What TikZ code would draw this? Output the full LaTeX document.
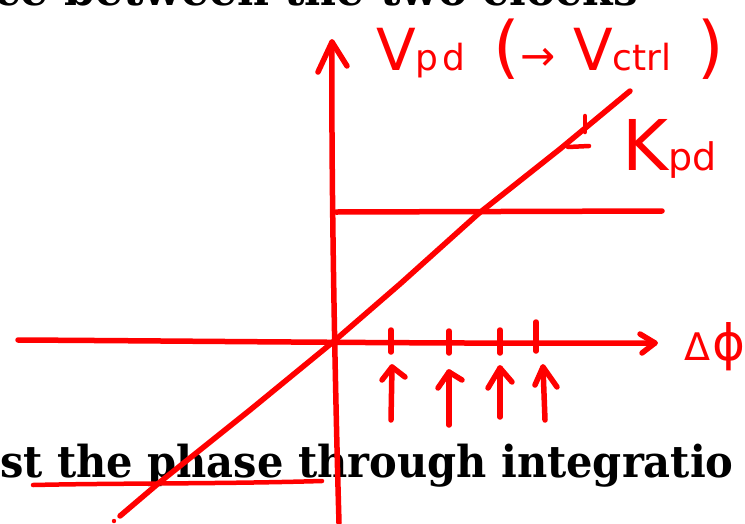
\documentclass[tikz,border=0pt]{standalone}
\usepackage{fontspec}
\setmainfont{DejaVu Serif}
\newfontfamily\narrowserif[FakeStretch=0.945]{DejaVu Serif}
\newfontfamily\handfont{DejaVu Sans}
\definecolor{ink}{RGB}{255,0,0}
\tikzset{
  pen/.style={draw=ink, line width=5.5pt, line cap=round, line join=round},
  thinpen/.style={draw=ink, line width=4.5pt, line cap=round, line join=round},
  slide/.style={anchor=base west, inner sep=0pt, text=black,
    font=\fontsize{44}{44}\selectfont\bfseries},
  hand/.style={anchor=base west, inner sep=0pt, text=ink, font=\handfont},
}
\newcommand{\hsz}[1]{\fontsize{#1}{#1}\selectfont}
\begin{document}
\begin{tikzpicture}[x=1pt,y=-1pt]
\useasboundingbox (0,0) rectangle (745,523);
\clip (0,0) rectangle (745,523);
% slide text
\node[slide] (toptext) at (-6,5) {ce between the two clocks};
\node[slide, font=\narrowserif\fontsize{44}{44}\selectfont\bfseries] (bottext) at (0,477) {st the phase through integratio};
% coordinates
\coordinate (ytip) at (332,42);
\coordinate (origin) at (333,342);
\coordinate (ybot) at (339,523);
\coordinate (xleft) at (18,340);
\coordinate (xtip) at (655,343);
\coordinate (dlow) at (120,516);
\coordinate (dhigh) at (630,91);
\coordinate (hl) at (336,212);
\coordinate (hr) at (662,211);
% vertical axis
\draw[pen] (ybot) .. controls (336,420) and (331,200) .. (ytip);
\draw[pen] (318,72) -- (ytip) -- (347,66);
% horizontal axis
\draw[pen] (xleft) .. controls (200,341) and (450,344) .. (xtip);
\draw[pen] (640,334) -- (xtip) -- (642,353);
% diagonal
\draw[pen] (dlow) -- (160,482) -- (250,410) -- (origin) -- (400,284) -- (478,214) -- (560,149) -- (dhigh);
\fill[ink] (114,521) circle (2.2pt);
% horizontal level line
\draw[pen] (hl) -- (hr);
% underline
\draw[thinpen] (33,485) .. controls (120,483) and (220,484) .. (322,481);
% ticks
\foreach \x/\a/\b in {391/330/352, 449/331/353, 500/330/353, 536/322/351}
  \draw[pen] (\x,\a) -- (\x,\b);
% up arrows
\draw[pen] (391,420) -- (392,367); \draw[pen] (382,380) -- (392,367) -- (405,377);
\draw[pen] (449,425) -- (449,372); \draw[pen] (438,388) -- (449,372) -- (462,380);
\draw[pen] (500,417) -- (500,368); \draw[pen] (488,388) -- (500,368) -- (512,382);
\draw[pen] (545,420) -- (543,367); \draw[pen] (535,385) -- (543,367) -- (557,387);
% slope marks
\draw[thinpen] (585,116) -- (585,132);
\draw[thinpen] (568,147) -- (589,146);
% labels
\node[hand] (vpd) at (376,70) {\hsz{58}V\hsz{36}p\hspace{4pt}d\hspace{28pt}\hsz{68}(\hsz{42}→\hspace{18pt}\hsz{58}V\hsz{36}ctrl\hspace{26pt}\hsz{68})};
\node[hand] (kpd) at (622,170) {\hsz{70}K\hsz{38}pd};
\node[hand] (dphi) at (684,360) {\hsz{38}Δ\hspace{2pt}\hsz{50}ϕ};
\end{tikzpicture}
\end{document}
